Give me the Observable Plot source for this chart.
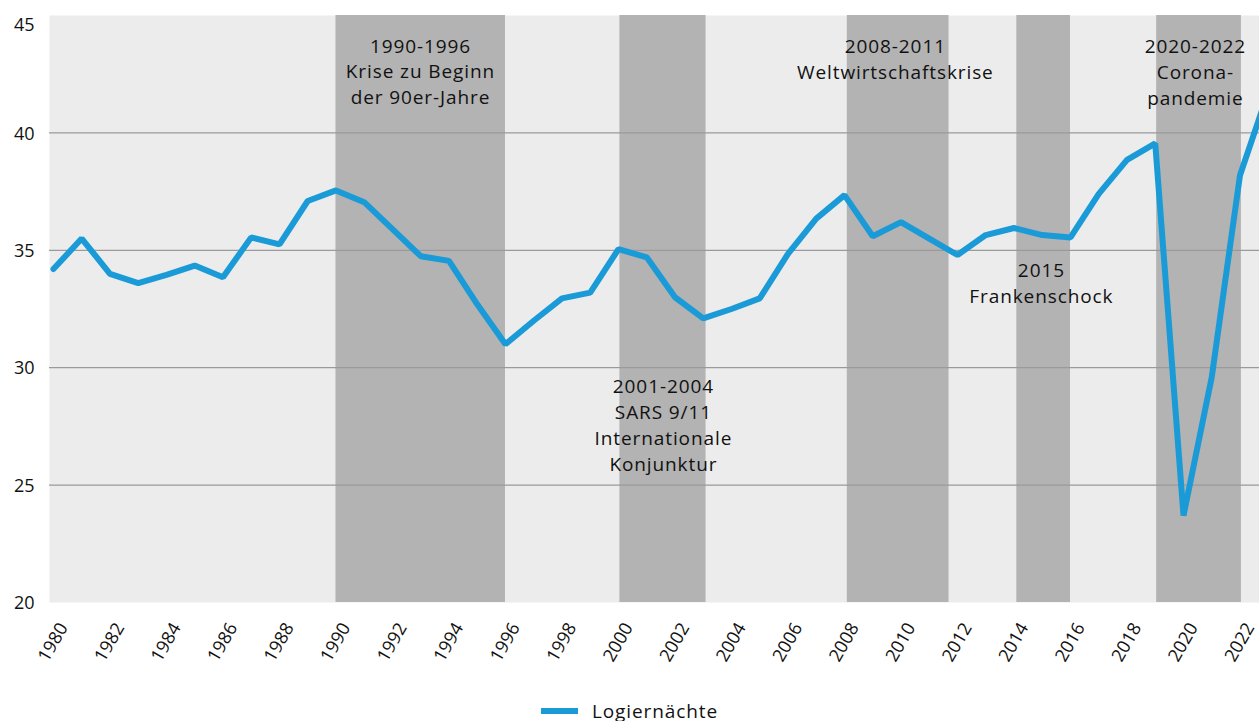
<!DOCTYPE html>
<html>
<head>
<meta charset="utf-8">
<script src="https://cdn.jsdelivr.net/npm/d3@7"></script>
<script src="https://cdn.jsdelivr.net/npm/@observablehq/plot@0.6"></script>
<style>
  html, body { margin: 0; background: #fff; font-family: "Open Sans", sans-serif; overflow: hidden; }
  #legend { display: flex; justify-content: center; align-items: center; height: 20px; margin-top: 11px; font-size: 19px; letter-spacing: 0.9px; color: #111; }
  #legend span { line-height: 20px; }
  #legend .sw { width: 37px; height: 6px; background: #1a9bd7; margin-right: 14px; }
</style>
</head>
<body>
<div id="chart"></div>
<div id="legend"><span class="sw"></span><span>Logiernächte</span></div>
<script>
const years = [1980,1981,1982,1983,1984,1985,1986,1987,1988,1989,
  1990,1991,1992,1993,1994,1995,1996,1997,1998,1999,
  2000,2001,2002,2003,2004,2005,2006,2007,2008,2009,
  2010,2011,2012,2013,2014,2015,2016,2017,2018,2019,
  2020,2021,2022,2023];
const logiernaechte = [34.2,35.5,34.0,33.6,33.95,34.35,33.85,35.55,35.25,37.1,
  37.55,37.05,35.9,34.75,34.55,32.7,31.0,32.0,32.95,33.2,
  35.05,34.7,33.0,32.1,32.5,32.95,34.85,36.35,37.35,35.6,
  36.2,35.5,34.8,35.65,35.95,35.65,35.55,37.4,38.85,39.55,
  23.7,29.6,38.2,41.75];
const crisisStart = [1990, 2000.05, 2008.1, 2014.1, 2019.05];
const crisisEnd   = [1996, 2003.1, 2011.7, 2016, 2022.05];
const crisisLabels = [
  "1990-1996\nKrise zu Beginn\nder 90er-Jahre",
  "2001-2004\nSARS 9/11\nInternationale\nKonjunktur",
  "2008-2011\nWeltwirtschaftskrise",
  "2015\nFrankenschock",
  "2020-2022\nCorona-\npandemie"
];
const labelX = [1992.99, 2001.59, 2009.8, 2014.97, 2020.42];
const labelY = [44.2, 29.7, 44.18, 34.64, 44.18];
const xTicks = d3.range(1980, 2023, 2);
const yTicks = [20, 25, 30, 35, 40, 45];
const gridLines = [25, 30, 35, 40];

const data = years.map((y, i) => ({year: y, value: logiernaechte[i]}));
const bands = crisisStart.map((s, i) => ({x1: s, x2: crisisEnd[i]}));
const annos = crisisLabels.map((t, i) => ({text: t, x: labelX[i], y: labelY[i]}));

const chart = Plot.plot({
  width: 1259,
  height: 690,
  marginLeft: 49,
  marginRight: 0,
  marginTop: 15,
  marginBottom: 88,
  style: {fontFamily: "'Open Sans', sans-serif", fontSize: "18px", color: "#111", background: "#fff", overflow: "visible"},
  x: {domain: [1979.86, 2022.69], axis: null},
  y: {domain: [20, 45], axis: null},
  marks: [
    Plot.frame({fill: "#ececec", stroke: null}),
    Plot.rectX(bands, {x1: "x1", x2: "x2", y1: 20, y2: 45, fill: "#b3b3b3"}),
    Plot.ruleY(gridLines, {stroke: "#9a9a9a", strokeWidth: 1.3}),
    Plot.line(data, {x: "year", y: "value", stroke: "#1a9bd7", strokeWidth: 6, strokeLinejoin: "miter", clip: true}),
    Plot.text(annos, {x: "x", y: "y", text: "text", lineAnchor: "top", lineHeight: 1.36, fill: "#111", fontSize: 19}),
    Plot.text(xTicks, {x: d => d, y: 20, text: d => String(d), rotate: -60, textAnchor: "end", lineAnchor: "middle", dx: 10, dy: 22, fill: "#111", fontSize: 18}),
    Plot.text(yTicks.filter(d => d < 45), {x: 1979.86, y: d => d, text: d => String(d), textAnchor: "end", dx: -15, dy: 1, fill: "#111", fontSize: 18}),
    Plot.text(yTicks.filter(d => d === 45), {x: 1979.86, y: d => d, text: d => String(d), textAnchor: "end", dx: -15, dy: 10, fill: "#111", fontSize: 18})
  ]
});
chart.querySelectorAll("text").forEach(t => {
  if (t.textContent.match(/[A-Za-z]/)) t.style.letterSpacing = "0.9px";
});
document.getElementById("chart").appendChild(chart);
</script>
</body>
</html>
